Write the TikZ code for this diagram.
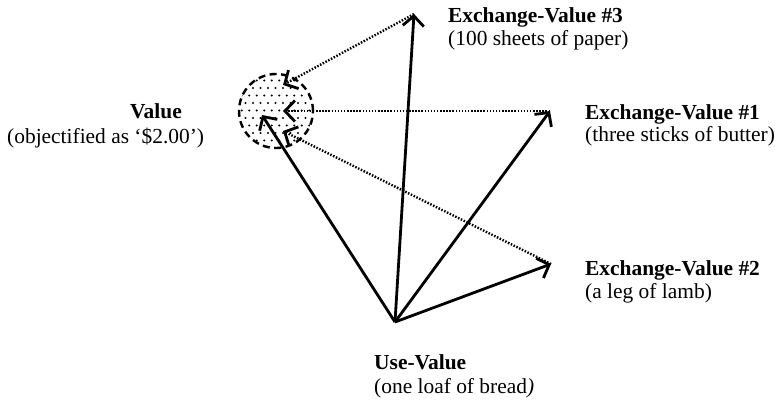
\documentclass[tikz,border=0pt]{standalone}
\usepackage{fontspec}
\setmainfont{Liberation Serif}
\usetikzlibrary{arrows.meta}
\begin{document}
\begin{tikzpicture}[x=1bp,y=-1bp,
  lbl/.style={anchor=base west, inner sep=0pt, font=\fontsize{21.5}{26}\selectfont},
  ttl/.style={anchor=base west, inner sep=0pt, font=\fontsize{21.5}{26}\selectfont\bfseries},
  barb/.style={-{Straight Barb[length=10bp,width=21bp,line width=2.8bp]}},
  vec/.style={line width=2.8bp, barb},
  link/.style={line width=2.4bp, dash pattern=on 1.5bp off 1.6bp, barb},
  valring/.style={circle, minimum size=74bp, inner sep=0pt, line width=2.4bp, dash pattern=on 7bp off 4.5bp}]
\useasboundingbox (0,0) rectangle (775,401);

% points of the diagram
\coordinate (U) at (395,322);
\coordinate (E3) at (414,14);
\coordinate (E1) at (550,111);
\coordinate (E2) at (551,264);
\coordinate (V) at (276,111);

% dotted fill of the value circle
\begin{scope}
  \clip (V) circle (37);
  \foreach \r in {0,...,11} {
    \foreach \c in {0,...,11} {
      \pgfmathsetmacro{\px}{238+7.5*\c+3.75*mod(\r,2)}
      \pgfmathsetmacro{\py}{73+7.5*\r}
      \fill (\px,\py) circle (1.1);
    }
  }
\end{scope}
\node[valring, draw] (val) at (V) {};

% arrow tips inside the circle
\coordinate (t3) at (283,85);
\coordinate (t1) at (283,111);
\coordinate (t2) at (283,131);
\coordinate (tU) at (262,115);

% use-value vectors
\draw[vec] (U) -- (E3);
\draw[vec] (U) -- (E1);
\draw[vec] (U) -- (E2);
\draw[vec] (U) -- (tU);

% exchange-values pointing back to value
\draw[link] (E3) -- (t3);
\draw[link] (E1) -- (t1);
\draw[link] (E2) -- (t2);

% labels
\node[ttl] (v1) at (130,118) {Value};
\node[lbl] (v2) at (7,143) {(objectified as ‘\$2.00’)};
\node[ttl] (x3) at (448,22) {Exchange-Value \#3};
\node[lbl] (x3b) at (448,45) {(100 sheets of paper)};
\node[ttl] (x1) at (585,119) {Exchange-Value \#1};
\node[lbl] (x1b) at (585,141) {(three sticks of butter)};
\node[ttl] (x2) at (585,275) {Exchange-Value \#2};
\node[lbl] (x2b) at (585,298) {(a leg of lamb)};
\node[ttl] (u1) at (374,369) {Use-Value};
\node[lbl] (u2) at (374,393) {(one loaf of bread\textit{)}};
\end{tikzpicture}
\end{document}
